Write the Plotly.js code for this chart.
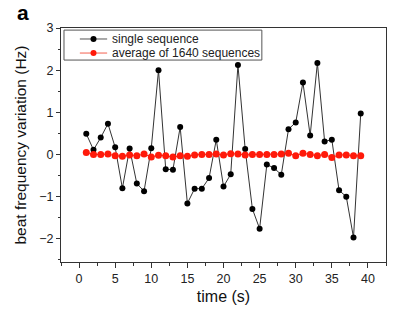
<!DOCTYPE html>
<html><head><meta charset="utf-8">
<script src="https://cdn.plot.ly/plotly-3.0.1.min.js"></script>
<style>html,body{margin:0;padding:0;background:#fff}#chart{width:409px;height:316px}</style>
</head><body><div id="chart"></div>
<script>
const timeS = [1,2,3,4,5,6,7,8,9,10,11,12,13,14,15,16,17,18,19,20,21,22,23,24,25,26,27,28,29,30,31,32,33,34,35,36,37,38,39];
const singleSeq = [0.49,0.11,0.40,0.73,0.17,-0.80,0.14,-0.69,-0.87,0.15,2.0,-0.35,-0.36,0.65,-1.16,-0.81,-0.81,-0.56,0.35,-0.76,-0.47,2.12,0.13,-1.29,-1.76,-0.24,-0.32,-0.48,0.60,0.76,1.71,0.45,2.17,0.31,0.35,-0.85,-1.0,-1.97,0.97];
const avgSeq = [0.05,0.0,0.0,0.01,-0.03,-0.04,-0.01,-0.03,0.01,-0.06,-0.02,-0.03,-0.06,-0.03,-0.04,-0.01,0.0,0.0,0.01,-0.01,0.02,0.01,-0.01,0.0,0.0,0.0,0.0,0.01,0.03,-0.03,0.03,0.0,-0.03,0.0,-0.07,-0.01,-0.01,-0.03,-0.03];
const names = ['single sequence','average of 1640 sequences'];
const lineColors = ['#555','#f36050'];
const markerColors = ['#000','#ff1a0a'];

const traces = [
  {x: timeS, y: singleSeq, name: names[0], type:'scatter', mode:'lines+markers',
   line:{color:'#333', width:1}, marker:{color:markerColors[0], size:6}},
  {x: timeS, y: avgSeq, name: names[1], type:'scatter', mode:'lines+markers',
   line:{color:'#f03020', width:1}, marker:{color:markerColors[1], size:7}}
];
const FF = 'Liberation Sans, Arial, sans-serif';
const axFont = {family:FF, size:12.5, color:'#222'};

// custom compact legend (paper coords)
const legRows = [0.953, 0.893];
const shapes = [
  {type:'rect', xref:'paper', yref:'paper', x0:0.0092, x1:0.618, y0:0.863, y1:0.991,
   line:{color:'#555', width:1}, fillcolor:'rgba(255,255,255,0)', layer:'above'}
];
const annotations = [{text:'<b>a</b>', xref:'paper', yref:'paper', x:-0.14, y:1.125, xanchor:'left', yanchor:'top', showarrow:false,
    font:{family:FF, size:21, color:'#000'}}];
names.forEach((n,i)=>{
  shapes.push({type:'line', xref:'paper', yref:'paper', x0:0.058, x1:0.142, y0:legRows[i], y1:legRows[i],
    line:{color:lineColors[i], width:1}, layer:'above'});
  shapes.push({type:'circle', xref:'paper', yref:'paper', xsizemode:'pixel', ysizemode:'pixel',
    xanchor:0.100, yanchor:legRows[i], x0:-3, x1:3, y0:-3, y1:3,
    fillcolor:markerColors[i], line:{color:markerColors[i], width:0}, layer:'above'});
  annotations.push({text:n, xref:'paper', yref:'paper', x:0.151, y:legRows[i], xanchor:'left', yanchor:'middle',
    showarrow:false, font:{family:FF, size:12, color:'#222'}});
});

const layout = {
  width:409, height:316,
  margin:{l:61, r:23, t:28, b:54, pad:0},
  paper_bgcolor:'#fff', plot_bgcolor:'#fff',
  showlegend:false,
  xaxis:{range:[-2.5,42.5], tickmode:'linear', tick0:0, dtick:5, ticks:'outside', ticklen:5, tickcolor:'#333',
    showline:true, linecolor:'#333', linewidth:1, mirror:true, showgrid:false, zeroline:false,
    tickfont:axFont, minor:{dtick:2.5, ticks:'outside', ticklen:3, tickcolor:'#333', showgrid:false},
    title:{text:'time (s)', font:{family:FF, size:16, color:'#111'}, standoff:5}},
  yaxis:{range:[-2.55,3], tickmode:'linear', tick0:0, dtick:1, ticks:'outside', ticklen:4, tickcolor:'#333',
    showline:true, linecolor:'#333', linewidth:1, mirror:true, showgrid:false, zeroline:false,
    tickfont:axFont, minor:{dtick:0.5, ticks:'outside', ticklen:2, tickcolor:'#333', showgrid:false},
    title:{text:'beat frequency variation (Hz)', font:{family:FF, size:15.5, color:'#111'}, standoff:8}},
  shapes: shapes,
  annotations: annotations
};
Plotly.newPlot('chart', traces, layout, {displayModeBar:false, staticPlot:true});
</script></body></html>
